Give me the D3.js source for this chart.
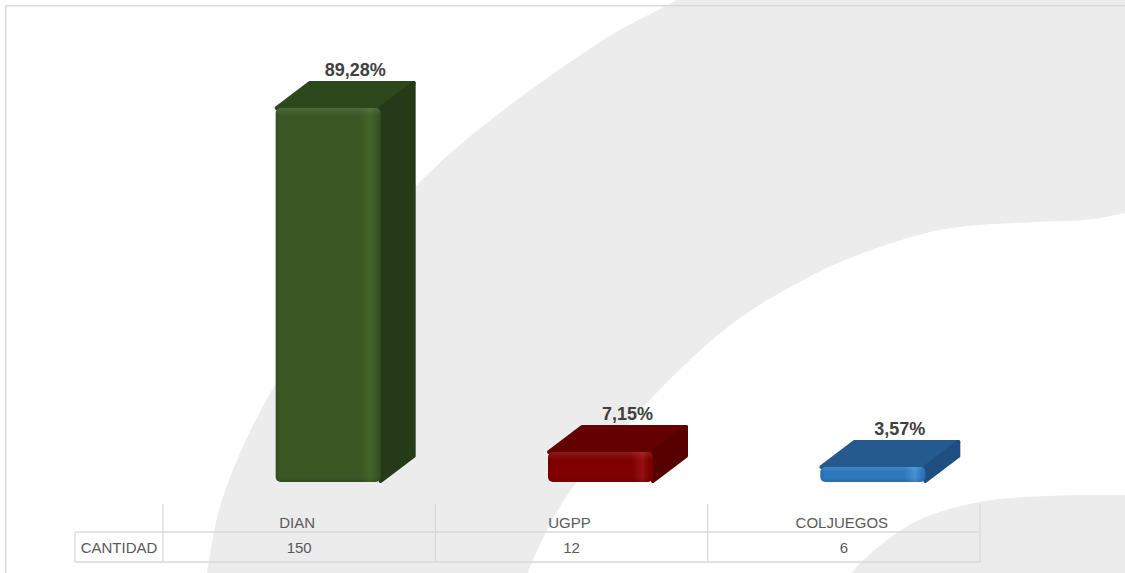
<!DOCTYPE html>
<html><head><meta charset="utf-8">
<script src="https://cdn.jsdelivr.net/npm/d3@7"></script>
<style>html,body{margin:0;padding:0;background:#fff;overflow:hidden}</style>
</head><body>
<svg id="chart" width="1125" height="573"></svg>
<script>
// ---- data ----
const categories = ["DIAN", "UGPP", "COLJUEGOS"];
const cantidad = [150, 12, 6];
const percentLabels = ["89,28%", "7,15%", "3,57%"];
const seriesName = "CANTIDAD";

// ---- styles ----
const palette = [
  {front: "#3a5724", hi: "#44652a", top: "#2d481d", side: "#253a17"},
  {front: "#800000", hi: "#951010", top: "#640000", side: "#570000"},
  {front: "#2f77bf", hi: "#4690d4", top: "#245a8e", side: "#1f4f80"}
];

const W = 1125, H = 573;
const svg = d3.select("#chart");
const defs = svg.append("defs");

// ---- decorative background swooshes ----
const curve = d3.line().curve(d3.curveCatmullRom.alpha(0.5));
const bandOuter = [[720,-25],[677,0],[600,42],[412,190],[272,390],[222,500],[207,573],[204,592]];
const bandInner = [[524,592],[528,573],[566,497],[612,443],[666,383],[737,320],[809,277],[850,258],[940,230],[1033,222],[1083,220],[1125,213],[1145,206]];
svg.append("path")
  .attr("d", curve(bandOuter) + "L" + curve(bandInner).slice(1) + "L1145,-25Z")
  .attr("fill", "#ececec");
const swoosh2 = [[845,592],[852,573],[913,523],[980,502],[1047,496],[1125,495],[1145,495]];
svg.append("path")
  .attr("d", curve(swoosh2) + "L1145,592Z")
  .attr("fill", "#ececec");

// ---- frame ----
svg.append("rect").attr("x", 5.7).attr("y", 5.7).attr("width", 1140).attr("height", 600)
  .attr("fill", "none").attr("stroke", "#d9d9d9").attr("stroke-width", 1.5);

// ---- scales ----
const x = d3.scaleBand().domain(categories).range([163, 980]);
const y = d3.scaleLinear().domain([0, 150]).range([482, 108]);

const frontW = 105, shift = 29, dX = 34, dY = -26;

const bars = svg.append("g");
categories.forEach((cat, i) => {
  const col = palette[i];
  const c = x(cat) + x.bandwidth() / 2;
  const fx0 = c + shift - frontW / 2, fx1 = fx0 + frontW;
  const yt = y(cantidad[i]), yb = y(0);

  // gradients
  const gid = "gf" + i;
  const g = defs.append("linearGradient").attr("id", gid).attr("x1", 0).attr("x2", 1).attr("y1", 0).attr("y2", 0);
  [[0, d3.color(col.front).darker(0.4)], [0.04, col.front], [0.8, col.front], [0.9, col.hi], [0.96, col.front], [1, d3.color(col.front).darker(0.3)]]
    .forEach(([o, cl]) => g.append("stop").attr("offset", o).attr("stop-color", cl));
  const vid = "gv" + i;
  const v = defs.append("linearGradient").attr("id", vid).attr("gradientUnits", "userSpaceOnUse")
    .attr("x1", 0).attr("x2", 0).attr("y1", yt).attr("y2", yb);
  v.append("stop").attr("offset", 0).attr("stop-color", "#fff").attr("stop-opacity", 0.1);
  v.append("stop").attr("offset", Math.min(0.3, 8 / (yb - yt))).attr("stop-color", "#fff").attr("stop-opacity", 0);
  v.append("stop").attr("offset", 1 - Math.min(0.3, 6 / (yb - yt))).attr("stop-color", "#000").attr("stop-opacity", 0);
  v.append("stop").attr("offset", 1).attr("stop-color", "#000").attr("stop-opacity", 0.12);

  // top face
  bars.append("path")
    .attr("d", `M${fx0+1},${yt} L${fx0+dX},${yt+dY+1} L${fx1+dX-1},${yt+dY+1} L${fx1},${yt} Z`)
    .attr("fill", col.top).attr("stroke", col.top).attr("stroke-width", 4).attr("stroke-linejoin", "round");
  // side face
  bars.append("path")
    .attr("d", `M${fx1},${yt} L${fx1+dX-1},${yt+dY+1} L${fx1+dX-1},${yb+dY} L${fx1},${yb-1} Z`)
    .attr("fill", col.side).attr("stroke", col.side).attr("stroke-width", 4).attr("stroke-linejoin", "round");
  // front face
  bars.append("rect").attr("x", fx0).attr("y", yt).attr("width", frontW).attr("height", yb - yt)
    .attr("rx", 5).attr("fill", `url(#${gid})`);
  bars.append("rect").attr("x", fx0).attr("y", yt).attr("width", frontW).attr("height", yb - yt)
    .attr("rx", 5).attr("fill", `url(#${vid})`);

  // data label
  svg.append("text")
    .attr("x", c + shift + 27).attr("y", yt + dY - 6)
    .attr("text-anchor", "middle")
    .attr("font-family", "'Liberation Sans', Arial, sans-serif")
    .attr("font-weight", "bold").attr("font-size", 18)
    .attr("fill", "#404040")
    .text(percentLabels[i]);
});

// ---- data table ----
const tbl = svg.append("g").attr("stroke", "#d9d9d9").attr("stroke-width", 1.3);
const edges = categories.map(d => x(d)).concat([x.range()[1]]);
edges.forEach(ex => tbl.append("line").attr("x1", ex).attr("x2", ex).attr("y1", 504).attr("y2", 562));
tbl.append("line").attr("x1", 75).attr("x2", 75).attr("y1", 532).attr("y2", 562);
[532, 562].forEach(hy => tbl.append("line").attr("x1", 75).attr("x2", x.range()[1]).attr("y1", hy).attr("y2", hy));

const tf = "'Liberation Sans', Arial, sans-serif";
categories.forEach((cat, i) => {
  const c = x(cat) + x.bandwidth() / 2;
  svg.append("text").attr("x", c - 2).attr("y", 528).attr("text-anchor", "middle")
    .attr("font-family", tf).attr("font-size", 15).attr("fill", "#595959").text(cat);
  svg.append("text").attr("x", c).attr("y", 553).attr("text-anchor", "middle")
    .attr("font-family", tf).attr("font-size", 15).attr("fill", "#595959").text(cantidad[i]);
});
svg.append("text").attr("x", 119).attr("y", 553).attr("text-anchor", "middle")
  .attr("font-family", tf).attr("font-size", 15).attr("fill", "#595959").text(seriesName);
</script>
</body></html>
